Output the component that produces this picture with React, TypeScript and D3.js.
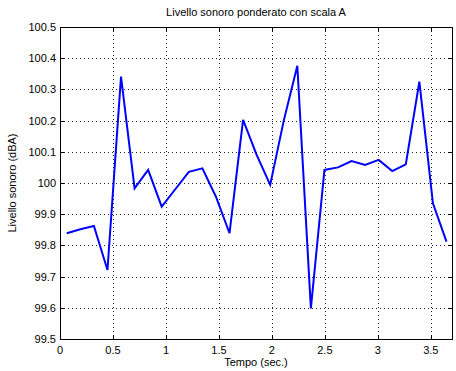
import React from "react";
import * as d3 from "d3";

// Sample times (s) and A-weighted sound level (dBA)
const times = [
  0.064, 0.192, 0.32, 0.448, 0.576, 0.704, 0.832, 0.96, 1.088, 1.216,
  1.344, 1.472, 1.6, 1.728, 1.856, 1.984, 2.112, 2.24, 2.368, 2.496,
  2.624, 2.752, 2.88, 3.008, 3.136, 3.264, 3.392, 3.52, 3.648,
];
const levels = [
  99.839, 99.852, 99.862, 99.721, 100.341, 99.983, 100.042, 99.924, 99.98, 100.036,
  100.047, 99.956, 99.839, 100.202, 100.09, 99.994, 100.2, 100.376, 99.598, 100.042,
  100.05, 100.07, 100.058, 100.074, 100.038, 100.06, 100.325, 99.935, 99.812,
];
const xTicks = [0, 0.5, 1, 1.5, 2, 2.5, 3, 3.5];
const yTicks = [99.5, 99.6, 99.7, 99.8, 99.9, 100, 100.1, 100.2, 100.3, 100.4, 100.5];
const xDomain = [0, 3.7];
const yDomain = [99.5, 100.5];

const W = 456;
const H = 371;
const left = 60;
const right = 452;
const top = 27;
const bottom = 339;
const font = "'Liberation Sans', Arial, Helvetica, sans-serif";

export default function App() {
  const x = d3.scaleLinear().domain(xDomain).range([left, right]);
  const y = d3.scaleLinear().domain(yDomain).range([bottom, top]);
  const pts: [number, number][] = times.map((t, i) => [t, levels[i]]);
  const path = d3
    .line<[number, number]>()
    .x((d) => x(d[0]))
    .y((d) => y(d[1]))(pts);
  const tickLen = 4;
  const fmtY = (v: number) => (Math.round(v * 10) / 10).toString();

  return (
    <svg
      width={W}
      height={H}
      style={{ position: "absolute", left: 0, top: 0, background: "#fff" }}
    >
      <rect x={0} y={0} width={W} height={H} fill="#fff" />
      {/* grid */}
      <g stroke="#222" strokeWidth={1} strokeDasharray="1 3" shapeRendering="crispEdges">
        {xTicks.slice(1).map((t) => (
          <line key={"gx" + t} x1={Math.round(x(t)) + 0.5} x2={Math.round(x(t)) + 0.5} y1={top} y2={bottom} />
        ))}
        {yTicks.slice(1, -1).map((t) => (
          <line key={"gy" + t} x1={left} x2={right} y1={Math.round(y(t)) + 0.5} y2={Math.round(y(t)) + 0.5} />
        ))}
      </g>
      {/* data line */}
      <path d={path ?? ""} fill="none" stroke="#0000ff" strokeWidth={2} strokeLinejoin="miter" />
      {/* box and ticks */}
      <g stroke="#000" strokeWidth={1} shapeRendering="crispEdges" fill="none">
        <rect x={left + 0.5} y={top + 0.5} width={right - left} height={bottom - top} />
        {xTicks.map((t) => {
          const px = Math.round(x(t)) + 0.5;
          return (
            <g key={"tx" + t}>
              <line x1={px} x2={px} y1={bottom} y2={bottom - tickLen} />
              <line x1={px} x2={px} y1={top} y2={top + tickLen} />
            </g>
          );
        })}
        {yTicks.map((t) => {
          const py = Math.round(y(t)) + 0.5;
          return (
            <g key={"ty" + t}>
              <line x1={left} x2={left + tickLen} y1={py} y2={py} />
              <line x1={right} x2={right - tickLen} y1={py} y2={py} />
            </g>
          );
        })}
      </g>
      {/* tick labels */}
      <g fontFamily={font} fontSize={11} fill="#000">
        {xTicks.map((t) => (
          <text key={"lx" + t} x={x(t)} y={bottom + 15} textAnchor="middle">
            {t.toString()}
          </text>
        ))}
        {yTicks.map((t) => (
          <text key={"ly" + t} x={left - 4} y={y(t) + 4} textAnchor="end">
            {fmtY(t)}
          </text>
        ))}
      </g>
      {/* titles */}
      <text x={(left + right) / 2} y={16} textAnchor="middle" fontFamily={font} fontSize={11} fill="#000">
        Livello sonoro ponderato con scala A
      </text>
      <text x={(left + right) / 2} y={366} textAnchor="middle" fontFamily={font} fontSize={11} fill="#000">
        Tempo (sec.)
      </text>
      <text
        transform={`translate(16, ${(top + bottom) / 2}) rotate(-90)`}
        textAnchor="middle"
        fontFamily={font}
        fontSize={11}
        fill="#000"
      >
        Livello sonoro (dBA)
      </text>
    </svg>
  );
}
